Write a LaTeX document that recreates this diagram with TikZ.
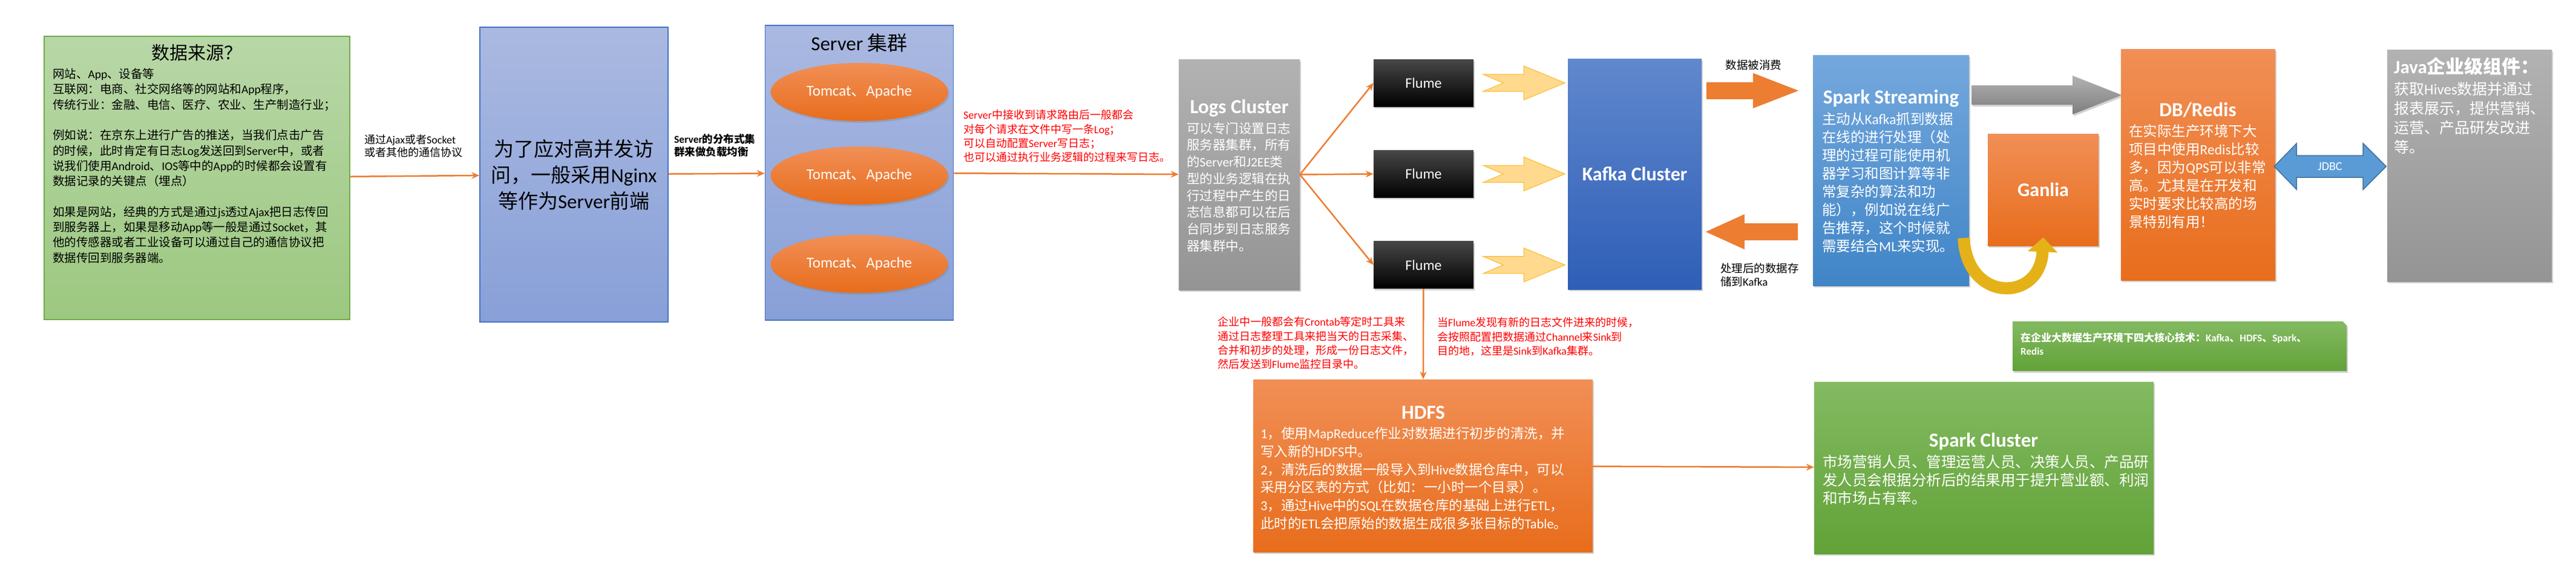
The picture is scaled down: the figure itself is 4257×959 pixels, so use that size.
\documentclass[tikz,border=0pt]{standalone}
\usepackage{fontspec}
\setmainfont{Noto Sans CJK SC}
\newfontfamily\latinfam{Carlito}
\usepackage{xcolor}
\usetikzlibrary{arrows,arrows.meta,shapes,positioning,shadows}

\newcommand{\fsz}[2]{\fontsize{#1}{#2}\selectfont}
\newcommand{\lat}[1]{{\latinfam #1}}

\definecolor{srcA}{RGB}{184,215,167}
\definecolor{srcB}{RGB}{156,200,128}
\definecolor{srcEdge}{RGB}{112,173,71}
\definecolor{frontA}{RGB}{170,185,225}
\definecolor{frontB}{RGB}{136,160,216}
\definecolor{frontEdge}{RGB}{68,114,196}
\definecolor{orgA}{RGB}{241,143,86}
\definecolor{orgB}{RGB}{232,109,28}
\definecolor{grayA}{RGB}{178,178,178}
\definecolor{grayB}{RGB}{148,148,148}
\definecolor{kafkaA}{RGB}{96,136,205}
\definecolor{kafkaB}{RGB}{46,94,183}
\definecolor{streamA}{RGB}{116,168,221}
\definecolor{streamB}{RGB}{64,133,199}
\definecolor{greenA}{RGB}{131,186,98}
\definecolor{greenB}{RGB}{98,162,55}
\definecolor{lineOrg}{RGB}{237,125,49}
\definecolor{chevFill}{RGB}{255,217,142}
\definecolor{chevEdge}{RGB}{250,192,60}
\definecolor{jdbcFill}{RGB}{91,155,213}
\definecolor{jdbcEdge}{RGB}{65,113,157}
\definecolor{gold}{RGB}{228,178,24}
\definecolor{noteRed}{RGB}{255,0,0}

\begin{document}
\begin{tikzpicture}[
    x=1pt, y=-1pt,
    >={Stealth[length=13pt,width=11pt]},
    lowshadow/.style={drop shadow={opacity=.35, shadow xshift=2pt, shadow yshift=-3pt}},
    frontbox/.style={draw=frontEdge, line width=1.5pt, top color=frontA, bottom color=frontB, minimum width=311pt, minimum height=487pt},
    tomcat/.style={ellipse, top color=orgA, bottom color=orgB, minimum width=293pt, minimum height=96pt, text=white, font=\fsz{25}{30}, lowshadow},
    graybox/.style={top color=grayA, bottom color=grayB, lowshadow},
    orangebox/.style={top color=orgA, bottom color=orgB, lowshadow},
    greenbox/.style={top color=greenA, bottom color=greenB, lowshadow},
    flumebox/.style={top color=black!72, middle color=black, bottom color=black, minimum width=165pt, minimum height=78pt, text=white, font=\fsz{24}{28}\latinfam, lowshadow},
    blacktxt/.style={inner sep=0pt, align=left, anchor=west},
    whitetxt/.style={inner sep=0pt, align=left, anchor=west, text=white},
    redtxt/.style={inner sep=0pt, align=left, anchor=west, text=noteRed, font=\fsz{18}{23.3}},
    heading/.style={inner sep=0pt, text=white, font=\fsz{33}{36}\bfseries\latinfam},
    conn/.style={->, draw=lineOrg, line width=2.5pt},
    fatarrow/.style={fill=lineOrg},
    chev/.style={fill=chevFill, draw=chevEdge, line width=1.2pt}
  ]
  \path[use as bounding box, fill=white] (0,0) rectangle (4257,959);

  \node[draw=srcEdge, line width=1.5pt, top color=srcA, bottom color=srcB, minimum width=505pt, minimum height=468pt] (src) at (325.5,294) {};
  \node[inner sep=0pt, font=\fsz{30}{34}] (srctitle) at (325,87) {数据来源？};
  \node[blacktxt, font=\fsz{19.5}{25.3}] (srcbody) at (87,274) {网站、\lat{App}、设备等\\互联网：电商、社交网络等的网站和\lat{App}程序，\\传统行业：金融、电信、医疗、农业、生产制造行业；\\[25.3pt]例如说：在京东上进行广告的推送，当我们点击广告\\的时候，此时肯定有日志\lat{Log}发送回到\lat{Server}中，或者\\说我们使用\lat{Android}、\lat{IOS}等中的\lat{App}的时候都会设置有\\数据记录的关键点（埋点）\\[25.3pt]如果是网站，经典的方式是通过\lat{js}透过\lat{Ajax}把日志传回\\到服务器上，如果是移动\lat{App}等一般是通过\lat{Socket}，其\\他的传感器或者工业设备可以通过自己的通信协议把\\数据传回到服务器端。};
  \node[blacktxt, font=\fsz{18}{21}] (ajaxlab) at (602,241.5) {通过\lat{Ajax}或者\lat{Socket}\\或者其他的通信协议};

  \node[frontbox, align=center, font=\fsz{33}{43}] (nginx) at (948.5,288.5) {为了应对高并发访\\问，一般采用\lat{Nginx}\\等作为\lat{Server}前端};
  \node[blacktxt, font=\fsz{17.5}{21}\bfseries] (balancelab) at (1114,240.5) {\lat{Server}的分布式集\\群来做负载均衡};

  \node[frontbox] (cluster) at (1420,285.5) {};
  \node[inner sep=0pt, font=\fsz{33}{36}] (clustertitle) at (1420,71) {\lat{Server} 集群};
  \node[tomcat] (tc1) at (1420,152) {\lat{Tomcat}、\lat{Apache}};
  \node[tomcat] (tc2) at (1420,290) {\lat{Tomcat}、\lat{Apache}};
  \node[tomcat] (tc3) at (1420,436) {\lat{Tomcat}、\lat{Apache}};
  \node[redtxt] (loglab) at (1592,225) {\lat{Server}中接收到请求路由后一般都会\\对每个请求在文件中写一条\lat{Log}；\\可以自动配置\lat{Server}写日志；\\也可以通过执行业务逻辑的过程来写日志。};

  \node[graybox, minimum width=200pt, minimum height=381pt] (logs) at (2048,288.5) {};
  \node[heading] (logstitle) at (2048,179) {Logs Cluster};
  \node[whitetxt, font=\fsz{21.5}{27.7}] (logsbody) at (1961,309) {可以专门设置日志\\服务器集群，所有\\的\lat{Server}和\lat{J2EE}类\\型的业务逻辑在执\\行过程中产生的日\\志信息都可以在后\\台同步到日志服务\\器集群中。};

  \node[flumebox] (flume1) at (2352.5,137) {Flume};
  \node[flumebox, below=72pt of flume1] (flume2) {Flume};
  \node[flumebox, below=72pt of flume2] (flume3) {Flume};

  \node[top color=kafkaA, bottom color=kafkaB, lowshadow, minimum width=221pt, minimum height=381pt, text=white, font=\fsz{32}{36}\bfseries\latinfam] (kafka) at (2701.5,287.5) {Kafka Cluster};
  \fill[fatarrow] ([xshift=8pt,yshift=-53pt]kafka.north east) ++(0,-14) -- ++(77,0) -- ++(0,-15) -- ++(75,29) -- ++(-75,29) -- ++(0,-15) -- ++(-77,0) -- cycle;
  \node[inner sep=0pt, font=\fsz{18.5}{22}] (consumelab) at (2898,107) {数据被消费};
  \node[blacktxt, font=\fsz{18.5}{22}] (producelab) at (2843,454) {处理后的数据存\\储到\lat{Kafka}};

  \node[top color=streamA, bottom color=streamB, lowshadow, minimum width=258pt, minimum height=381pt] (stream) at (3125,281.5) {};
  \node[heading] (streamtitle) at (3125,163) {Spark Streaming};
  \node[whitetxt, font=\fsz{23.5}{30}] (streambody) at (3011,302) {主动从\lat{Kafka}抓到数据\\在线的进行处理（处\\理的过程可能使用机\\器学习和图计算等非\\常复杂的算法和功\\能），例如说在线广\\告推荐，这个时候就\\需要结合\lat{ML}来实现。};
  \fill[fatarrow] ([xshift=-25pt,yshift=-101.5pt]stream.west) ++(0,-14) -- ++(-88,0) -- ++(0,-15) -- ++(-64,29) -- ++(64,29) -- ++(0,-15) -- ++(88,0) -- cycle;

  \path[top color=grayA, bottom color=grayB!85!black, lowshadow] ([xshift=4pt,yshift=124.5pt]stream.east) ++(0,-16) -- ++(167,0) -- ++(0,-16) -- ++(81,32) -- ++(-81,32) -- ++(0,-16) -- ++(-167,0) -- cycle;
  \node[orangebox, minimum width=183pt, minimum height=185pt, text=white, font=\fsz{32}{36}\bfseries\latinfam] (ganlia) at (3376.5,313.5) {Ganlia};
  \draw[line width=20pt, draw=gold, -{Triangle[width=48pt,length=24pt]}] ([xshift=-9pt,yshift=79pt]stream.south east) .. controls +(5,107) and +(-4.5,108) .. ([yshift=14pt]ganlia.south);

  \node[orangebox, minimum width=255pt, minimum height=382pt] (redis) at (3632.5,272) {};
  \node[heading] (redistitle) at (3632,182) {DB/Redis};
  \node[whitetxt, font=\fsz{23.5}{30}] (redisbody) at (3518,292) {在实际生产环境下大\\项目中使用\lat{Redis}比较\\多，因为\lat{QPS}可以非常\\高。尤其是在开发和\\实时要求比较高的场\\景特别有用！};

  \filldraw[fill=jdbcFill, draw=jdbcEdge, line width=1.5pt] ([xshift=-2pt,yshift=-3pt]redis.east) -- ++(37,-38) -- ++(0,20) -- ++(110,0) -- ++(0,-20) -- ++(38,38) -- ++(-38,38) -- ++(0,-20) -- ++(-110,0) -- ++(0,20) -- cycle;
  \node[inner sep=0pt, text=white, font=\fsz{20}{24}\latinfam] (jdbc) at (3850.5,275) {JDBC};

  \node[graybox, minimum width=272pt, minimum height=383pt] (java) at (4081,273.5) {};
  \node[whitetxt, font=\fsz{31}{36}\bfseries] (javatitle) at (3956,110) {\lat{Java}企业级组件：};
  \node[whitetxt, font=\fsz{25}{32}] (javabody) at (3956,195) {获取\lat{Hives}数据并通过\\报表展示，提供营销、\\运营、产品研发改进\\等。};

  \node[greenbox, chamfered rectangle, chamfered rectangle corners=north east, chamfered rectangle xsep=12pt, chamfered rectangle ysep=12pt, minimum width=552pt, minimum height=82pt] (note) at (3602,572) {};
  \node[whitetxt, font=\fsz{17}{22}\bfseries] (notetxt) at (3339,568) {在企业大数据生产环境下四大核心技术：\lat{Kafka}、\lat{HDFS}、\lat{Spark}、\\\lat{Redis}};

  \node[orangebox, minimum width=561pt, minimum height=285pt] (hdfs) at (2351.5,769.5) {};
  \node[heading] (hdfstitle) at (2352,682) {HDFS};
  \node[whitetxt, font=\fsz{22.5}{29.8}] (hdfsbody) at (2083,790.5) {\lat{1}，使用\lat{MapReduce}作业对数据进行初步的清洗，并\\写入新的\lat{HDFS}中。\\\lat{2}，清洗后的数据一般导入到\lat{Hive}数据仓库中，可以\\采用分区表的方式（比如：一小时一个目录）。\\\lat{3}，通过\lat{Hive}中的\lat{SQL}在数据仓库的基础上进行\lat{ETL}，\\此时的\lat{ETL}会把原始的数据生成很多张目标的\lat{Table}。};
  \node[redtxt] (crontablab) at (2012,567) {企业中一般都会有\lat{Crontab}等定时工具来\\通过日志整理工具来把当天的日志采集、\\合并和初步的处理，形成一份日志文件，\\然后发送到\lat{Flume}监控目录中。};
  \node[redtxt, font=\fsz{18}{23.5}] (sinklab) at (2375,556.5) {当\lat{Flume}发现有新的日志文件进来的时候，\\会按照配置把数据通过\lat{Channel}来\lat{Sink}到\\目的地，这里是\lat{Sink}到\lat{Kafka}集群。};

  \node[greenbox, minimum width=561pt, minimum height=284pt] (sparkc) at (3278.5,773) {};
  \node[heading] (sparkctitle) at (3278,730) {Spark Cluster};
  \node[whitetxt, font=\fsz{24.5}{30}] (sparkcbody) at (3012,793) {市场营销人员、管理运营人员、决策人员、产品研\\发人员会根据分析后的结果用于提升营业额、利润\\和市场占有率。};

  \filldraw[chev] ([xshift=16pt,yshift=14pt]flume1.east) -- ++(67,0) -- ++(0,-14) -- ++(68,28) -- ++(-68,28) -- ++(0,-14) -- ++(-67,0) -- ++(33,-14) -- cycle;
  \filldraw[chev] ([xshift=16pt,yshift=14pt]flume2.east) -- ++(67,0) -- ++(0,-14) -- ++(68,28) -- ++(-68,28) -- ++(0,-14) -- ++(-67,0) -- ++(33,-14) -- cycle;
  \filldraw[chev] ([xshift=16pt,yshift=14pt]flume3.east) -- ++(67,0) -- ++(0,-14) -- ++(68,28) -- ++(-68,28) -- ++(0,-14) -- ++(-67,0) -- ++(33,-14) -- cycle;

  \draw[conn] (src) -- (nginx);
  \draw[conn] (nginx) -- (cluster);
  \draw[conn] (cluster) -- (logs);
  \draw[conn] (logs.east) -- (flume1.west);
  \draw[conn] (logs.east) -- (flume2.west);
  \draw[conn] (logs.east) -- (flume3.west);
  \draw[conn] (flume3) -- (hdfs);
  \draw[conn] (hdfs) -- (sparkc);
\end{tikzpicture}
\end{document}
